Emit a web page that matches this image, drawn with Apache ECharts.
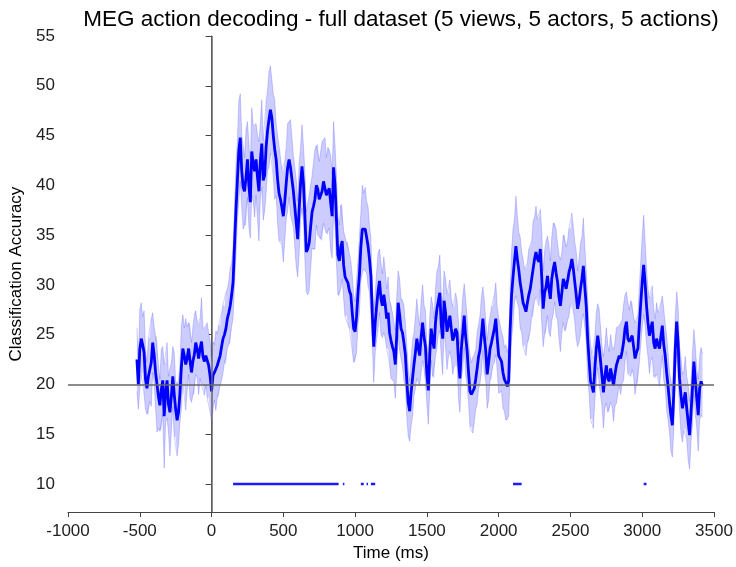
<!DOCTYPE html>
<html>
<head>
<meta charset="utf-8">
<script src="https://cdn.jsdelivr.net/npm/echarts@6/dist/echarts.min.js"></script>
<style>
  html, body { margin: 0; padding: 0; background: #fff; }
  #chart { width: 736px; height: 567px; }
</style>
</head>
<body>
<div id="chart"></div>
<script>
// time axis of the decoding curve (ms), one sample every 10 ms
const tStart = -520
const tStep = 10

// mean classification accuracy (%)
const meanAcc = [
  22.5, 20.0, 23.5, 24.6, 24.0, 23.2, 20.5, 19.6, 20.8, 21.5,
  22.2, 24.2, 23.0, 21.2, 20.0, 18.8, 17.9, 19.5, 20.4, 16.8,
  19.2, 20.4, 18.0, 17.2, 18.8, 20.8, 19.0, 17.5, 16.4, 17.2,
  19.2, 21.8, 23.6, 22.9, 22.0, 22.6, 23.6, 22.4, 21.2, 22.3,
  23.0, 24.2, 23.5, 22.6, 23.6, 24.3, 22.8, 22.3, 22.9, 22.4,
  21.9, 20.8, 19.3, 20.9, 21.2, 21.4, 21.9, 22.4, 22.9, 23.8,
  24.6, 25.0, 25.6, 26.6, 27.2, 27.9, 29.0, 30.3, 34.0, 37.5,
  40.5, 43.5, 44.8, 41.5, 39.8, 39.4, 40.8, 42.6, 40.0, 38.3,
  43.4, 42.2, 41.4, 42.6, 40.8, 39.4, 42.5, 44.2, 40.5, 41.0,
  43.8, 45.5, 46.6, 47.6, 46.8, 45.0, 43.6, 42.6, 40.6, 39.2,
  38.6, 37.8, 36.9, 38.4, 40.2, 41.8, 42.6, 41.8, 40.6, 39.4,
  37.8, 36.2, 34.6, 37.6, 40.2, 41.9, 40.2, 37.0, 33.3, 33.6,
  34.2, 35.8, 37.3, 37.9, 38.6, 40.0, 39.6, 38.6, 39.0, 39.4,
  40.4, 40.2, 39.0, 39.4, 39.7, 38.2, 36.9, 41.8, 40.0, 36.6,
  33.0, 32.4, 33.8, 34.4, 32.0, 30.8, 30.6, 30.2, 29.4, 29.0,
  27.2, 25.6, 25.3, 26.8, 29.2, 31.0, 33.8, 35.6, 35.4, 35.6,
  34.8, 33.9, 32.6, 30.9, 27.0, 23.8, 26.2, 27.9, 29.4, 30.4,
  28.6, 27.9, 29.0, 28.0, 26.6, 27.2, 25.2, 24.4, 23.8, 23.3,
  22.0, 25.0, 28.2, 27.0, 25.6, 25.2, 24.2, 23.0, 20.4, 18.2,
  17.3, 19.2, 20.6, 22.0, 23.2, 24.6, 23.6, 22.9, 24.8, 26.2,
  24.8, 23.8, 21.0, 19.4, 23.0, 25.6, 24.4, 23.6, 26.2, 27.6,
  28.4, 29.2, 26.0, 24.6, 28.4, 27.2, 25.3, 26.0, 26.9, 25.6,
  24.4, 24.8, 25.6, 25.2, 22.4, 20.6, 23.6, 25.2, 26.9, 24.8,
  23.4, 21.2, 19.3, 19.0, 18.9, 19.6, 20.5, 21.6, 22.8, 23.5,
  25.0, 26.6, 24.8, 23.4, 21.0, 22.2, 23.6, 24.2, 24.9, 25.6,
  26.6, 24.6, 22.9, 22.6, 22.3, 21.2, 20.5, 20.2, 19.8, 20.4,
  25.5, 29.0, 30.8, 32.4, 33.9, 32.6, 31.5, 30.2, 29.3, 28.2,
  27.8, 27.3, 28.2, 29.0, 29.6, 30.6, 31.6, 32.6, 33.3, 32.6,
  32.3, 33.6, 30.8, 27.6, 29.2, 29.8, 30.9, 29.6, 28.6, 30.6,
  31.6, 32.3, 31.2, 30.3, 28.8, 27.9, 29.2, 30.6, 30.2, 29.6,
  30.4, 31.3, 31.8, 32.6, 31.6, 30.3, 29.0, 27.6, 28.4, 29.6,
  30.6, 31.9, 29.8, 27.9, 24.6, 22.4, 20.3, 19.8, 19.2, 21.6,
  23.6, 24.9, 23.8, 22.3, 20.8, 19.2, 20.8, 21.9, 20.6, 20.3,
  21.6, 20.8, 19.9, 21.0, 21.9, 22.4, 22.9, 22.6, 23.3, 24.2,
  25.6, 26.3, 24.6, 24.3, 24.6, 24.9, 23.8, 22.6, 23.2, 23.6,
  26.0, 28.2, 30.3, 32.0, 30.2, 27.9, 26.2, 24.9, 25.6, 26.3,
  24.2, 23.6, 24.6, 24.0, 23.6, 24.8, 25.9, 24.0, 22.9, 21.2,
  19.8, 18.2, 16.9, 15.9, 19.2, 23.5, 26.3, 24.2, 20.6, 18.9,
  17.6, 18.4, 19.2, 17.6, 16.2, 14.9, 17.2, 19.6, 22.3, 20.4,
  18.6, 16.9, 19.6, 20.3, 19.9
]

// half width of the shaded error band
const errAcc = [
  3.2, 2.5, 4.0, 3.6, 2.8, 4.2, 3.0, 2.6, 3.8, 3.2,
  4.4, 3.0, 2.8, 3.6, 4.8, 3.2, 2.6, 4.0, 3.4, 5.2,
  3.0, 3.8, 2.8, 4.4, 3.4, 3.0, 4.2, 2.8, 3.6, 3.2,
  3.0, 4.2, 3.4, 2.8, 4.6, 3.2, 2.6, 3.8, 3.0, 3.4,
  4.0, 3.2, 2.8, 3.6, 3.0, 4.4, 2.8, 3.4, 3.0, 3.8,
  3.2, 3.6, 3.0, 3.4, 2.8, 4.0, 3.2, 3.6, 3.0, 3.4,
  3.4, 2.8, 3.6, 3.0, 3.2, 3.8, 3.2, 3.6, 4.0, 4.6,
  4.0, 5.0, 4.4, 3.6, 4.2, 3.4, 4.8, 3.8, 4.2, 3.6,
  4.4, 3.8, 4.6, 3.6, 4.2, 5.0, 3.8, 4.4, 4.0, 3.6,
  4.6, 4.0, 4.8, 4.4, 3.8, 4.2, 5.0, 3.6, 4.4, 4.8,
  4.2, 3.8, 4.6, 4.0, 3.6, 4.4, 3.8, 4.8, 4.2, 3.6,
  4.0, 4.4, 3.8, 4.6, 3.6, 4.2, 3.8, 4.4, 4.0, 4.6,
  4.8, 4.2, 3.6, 4.4, 5.0, 4.0, 4.6, 3.8, 4.4, 5.0,
  4.2, 4.6, 3.8, 4.4, 4.0, 4.8, 4.2, 4.6, 4.0, 4.4,
  4.0, 3.6, 4.2, 3.8, 3.4, 4.0, 3.6, 4.2, 3.8, 3.4,
  3.8, 3.4, 3.0, 3.6, 3.2, 3.8, 3.4, 4.4, 3.8, 4.2,
  3.6, 4.0, 3.4, 3.8, 3.2, 3.6, 3.0, 3.4, 3.8, 3.2,
  3.6, 3.2, 3.8, 3.4, 3.0, 3.6, 3.2, 3.8, 3.4, 3.0,
  3.4, 3.8, 3.2, 3.6, 3.0, 3.4, 3.8, 3.2, 3.6, 3.4,
  3.0, 3.4, 3.8, 3.2, 3.6, 4.0, 3.4, 3.0, 3.6, 3.8,
  3.2, 3.6, 3.0, 3.4, 3.8, 3.2, 3.6, 3.0, 3.4, 3.8,
  3.4, 3.8, 3.2, 3.6, 3.0, 3.4, 3.8, 3.2, 3.6, 3.0,
  3.4, 3.0, 3.6, 3.2, 3.8, 3.4, 3.0, 3.6, 3.2, 3.8,
  3.4, 3.0, 3.6, 3.2, 3.8, 3.4, 3.0, 3.6, 3.2, 3.4,
  3.8, 3.2, 3.6, 3.0, 3.4, 3.8, 3.2, 3.6, 3.0, 3.4,
  3.6, 3.2, 3.8, 3.4, 3.0, 3.6, 3.2, 3.8, 3.4, 3.6,
  4.0, 4.4, 4.8, 4.2, 5.0, 4.4, 3.8, 4.6, 4.0, 4.4,
  3.8, 4.4, 4.0, 4.6, 4.2, 3.8, 4.8, 4.2, 4.6, 4.0,
  4.4, 4.0, 4.6, 3.8, 4.2, 4.6, 4.0, 4.4, 3.8, 4.2,
  4.6, 4.0, 4.4, 3.8, 4.2, 4.6, 4.0, 4.4, 4.8, 4.2,
  4.0, 4.4, 3.8, 4.6, 4.2, 4.0, 4.4, 3.8, 4.2, 4.6,
  4.2, 4.8, 4.0, 3.6, 4.0, 3.4, 3.8, 3.2, 3.6, 3.2,
  3.6, 3.2, 3.8, 3.4, 3.0, 3.6, 3.2, 3.8, 3.4, 3.0,
  3.4, 3.0, 3.6, 3.2, 3.8, 3.4, 3.0, 3.6, 3.2, 3.8,
  3.4, 3.0, 3.6, 3.2, 3.8, 3.4, 3.0, 3.6, 3.2, 3.4,
  3.8, 4.2, 4.6, 5.0, 4.2, 3.8, 3.4, 3.8, 3.2, 3.6,
  3.4, 3.0, 3.6, 3.2, 3.8, 3.4, 3.0, 3.6, 3.2, 3.8,
  3.4, 3.0, 3.6, 3.2, 3.8, 3.4, 3.0, 3.6, 3.2, 3.8,
  3.4, 3.0, 3.6, 3.2, 3.8, 3.4, 3.0, 3.6, 3.2, 3.4,
  3.0, 3.6, 3.2, 3.4, 3.2
]

// time windows with significant decoding (drawn at y = 10)
const sigWindows = [[150, 885], [915, 925], [1040, 1060], [1080, 1090], [1110, 1140], [2100, 2160], [3010, 3030]]
const sigLevel = 10

const yTicks = [10, 15, 20, 25, 30, 35, 40, 45, 50, 55]
const chanceLevel = 20

const chart = echarts.init(document.getElementById('chart'))

const times = meanAcc.map((v, i) => tStart + i * tStep)
const meanData = meanAcc.map((v, i) => [times[i], v])
const lowData = meanAcc.map((v, i) => [times[i], +(v - errAcc[i]).toFixed(2)])
const highData = meanAcc.map((v, i) => [times[i], +(v + errAcc[i]).toFixed(2)])

const axisColor = '#444'
const fontFamily = '"Liberation Sans", Arial, Helvetica, sans-serif'

// shaded band: one polygon (upper edge forward, lower edge back)
function renderBand(params, api) {
  if (params.dataIndex !== 0) return null
  let pts = []
  highData.forEach((d) => pts.push(api.coord(d)))
  for (let i = lowData.length - 1; i >= 0; i--) {
    pts.push(api.coord(lowData[i]))
  }
  return {
    type: 'polygon',
    shape: { points: pts },
    style: { fill: '#ccccff', stroke: null },
    silent: true
  }
}

let sigSeries = sigWindows.map((w) => {
  return {
    type: 'line',
    data: [[w[0], sigLevel], [w[1], sigLevel]],
    symbol: 'none',
    silent: true,
    lineStyle: { color: '#1a1aff', width: 2.5 },
    z: 5
  }
})

let edgeStyle = { color: 'rgba(60,60,255,0.3)', width: 0.8 }

let options = {
  animation: false,
  title: {
    text: 'MEG action decoding - full dataset (5 views, 5 actors, 5 actions)',
    left: 396,
    textAlign: 'center',
    top: 3,
    textStyle: { fontFamily: fontFamily, fontSize: 22.5, fontWeight: 'normal', color: '#000' }
  },
  grid: { left: 68, right: 22, top: 36, bottom: 53 },
  xAxis: {
    type: 'value',
    min: -1000,
    max: 3500,
    interval: 500,
    name: 'Time (ms)',
    nameLocation: 'middle',
    nameGap: 28,
    nameTextStyle: { fontFamily: fontFamily, fontSize: 17, color: '#000' },
    axisLine: { show: true, lineStyle: { color: axisColor, width: 1 } },
    axisTick: { show: true, length: 5, lineStyle: { color: axisColor } },
    axisLabel: {
      fontFamily: fontFamily, fontSize: 17, color: '#222', margin: 11,
      formatter: (v) => String(v)
    },
    splitLine: { show: false }
  },
  yAxis: {
    type: 'value',
    min: 7.17,
    max: 55,
    name: 'Classification Accuracy',
    nameLocation: 'middle',
    nameGap: 32,
    nameTextStyle: { fontFamily: fontFamily, fontSize: 17, color: '#000' },
    axisLine: { show: true, lineStyle: { color: axisColor, width: 1 } },
    axisTick: { show: true, length: 6, customValues: yTicks, lineStyle: { color: axisColor } },
    axisLabel: { fontFamily: fontFamily, fontSize: 17, color: '#222', margin: 13, customValues: yTicks },
    splitLine: { show: false }
  },
  series: [
    {
      name: 'band',
      type: 'custom',
      renderItem: renderBand,
      data: meanData,
      clip: true,
      silent: true,
      z: 1
    },
    {
      name: 'upper',
      type: 'line',
      data: highData,
      symbol: 'none',
      silent: true,
      lineStyle: edgeStyle,
      z: 2
    },
    {
      name: 'lower',
      type: 'line',
      data: lowData,
      symbol: 'none',
      silent: true,
      lineStyle: edgeStyle,
      z: 2
    },
    {
      name: 'mean',
      type: 'line',
      data: meanData,
      symbol: 'none',
      lineStyle: { color: '#0000ff', width: 2.8 },
      z: 3,
      markLine: {
        silent: true,
        symbol: ['none', 'none'],
        label: { show: false },
        lineStyle: { color: '#666', width: 1.5, type: 'solid' },
        data: [{ xAxis: 0 }, { yAxis: chanceLevel }]
      }
    }
  ].concat(sigSeries)
}
chart.setOption(options)
</script>
</body>
</html>
